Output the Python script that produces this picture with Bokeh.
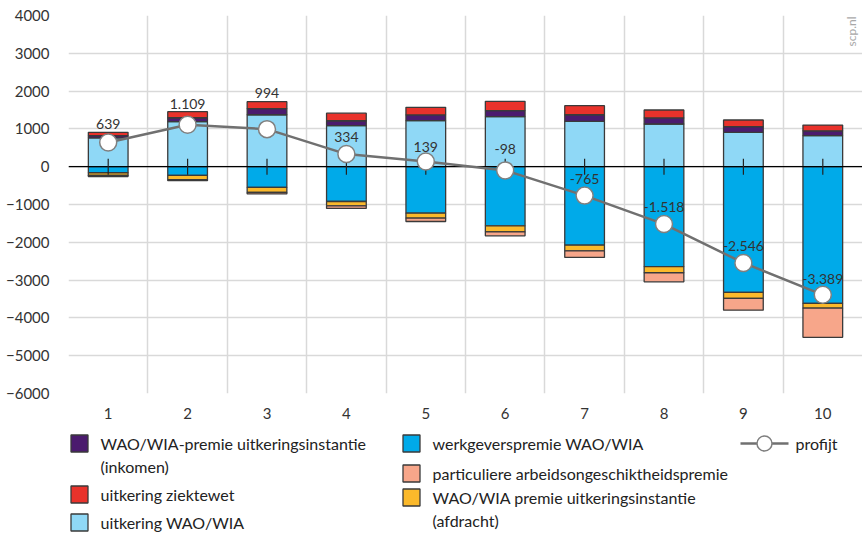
import numpy as np
from bokeh.plotting import figure
from bokeh.layouts import column
from bokeh.models import Range1d, FixedTicker, Label
from bokeh.core.properties import value
from bokeh.embed import file_html
from bokeh.resources import INLINE

FONT = "Lato"

cats = [1, 2, 3, 4, 5, 6, 7, 8, 9, 10]
tick_labels = {c: str(c) for c in cats}
# positive components
uitkering_wia = [760, 1190, 1375, 1085, 1220, 1325, 1200, 1130, 910, 820]
premie_inkomen = [60, 105, 160, 130, 150, 160, 175, 160, 150, 130]
uitkering_zw = [90, 160, 185, 200, 200, 245, 240, 210, 175, 150]
# negative components
werkgeverspremie = [-160, -230, -545, -920, -1230, -1565, -2075, -2645, -3325, -3615]
premie_afdracht = [-70, -110, -135, -115, -130, -160, -150, -160, -160, -125]
particuliere = [-30, -30, -40, -70, -90, -105, -175, -240, -310, -775]
profijt = [639, 1109, 994, 334, 139, -98, -765, -1518, -2546, -3389]
profijt_labels = ["639", "1.109", "994", "334", "139", "-98", "-765", "-1.518", "-2.546", "-3.389"]
# label offsets (style): pixels above each marker
label_offsets = [-19, -21, -36, -17, -14, -21, -17, -17, -17, -16]

C_PURPLE = "#4b1b6e"
C_RED = "#e9322b"
C_LBLUE = "#8fd8f6"
C_BLUE = "#00aae9"
C_SALMON = "#f7a68a"
C_ORANGE = "#fbb92b"
OUTLINE = "#3a3a3a"

p = figure(width=862, height=423, x_range=Range1d(0.5, 10.5), y_range=Range1d(-6000, 4000),
           output_backend="svg", toolbar_location=None,
           min_border_left=68, min_border_right=0, min_border_top=15, min_border_bottom=30)
p.outline_line_color = None
p.background_fill_color = "white"

p.xaxis.ticker = FixedTicker(ticks=cats)
p.xaxis.major_label_overrides = tick_labels
p.yaxis.ticker = FixedTicker(ticks=list(range(-6000, 4001, 1000)))
for ax in (p.xaxis[0], p.yaxis[0]):
    ax.axis_line_color = None
    ax.major_tick_line_color = None
    ax.minor_tick_line_color = None
    ax.major_label_text_font = FONT
    ax.major_label_text_font_size = "15px"
    ax.major_label_text_color = "#333333"
p.xaxis.major_label_standoff = 8
p.yaxis.major_label_standoff = 13

p.xgrid.ticker = FixedTicker(ticks=[c - 0.5 for c in cats] + [10.5])
p.ygrid.ticker = FixedTicker(ticks=list(range(-6000, 4001, 1000)))
p.xgrid.grid_line_color = "#d9d9d9"
p.ygrid.grid_line_color = "#d9d9d9"
p.xgrid.grid_line_width = 1.5
p.ygrid.grid_line_width = 1.5

w = 0.5
# positive stack
b0 = np.zeros(len(cats))
for vals, col in [(uitkering_wia, C_LBLUE), (premie_inkomen, C_PURPLE), (uitkering_zw, C_RED)]:
    v = np.array(vals, dtype=float)
    p.vbar(x=cats, width=w, bottom=b0, top=b0 + v, fill_color=col, line_color=OUTLINE, line_width=1.3)
    b0 = b0 + v
# negative stack
n0 = np.zeros(len(cats))
for vals, col in [(werkgeverspremie, C_BLUE), (premie_afdracht, C_ORANGE), (particuliere, C_SALMON)]:
    v = np.array(vals, dtype=float)
    p.vbar(x=cats, width=w, bottom=n0 + v, top=n0, fill_color=col, line_color=OUTLINE, line_width=1.3)
    n0 = n0 + v

# zero line and center ticks
p.segment(x0=[p.x_range.start], x1=[p.x_range.end], y0=[0], y1=[0], line_color="black", line_width=1.2)
p.segment(x0=cats, x1=cats, y0=[210] * len(cats), y1=[-210] * len(cats), line_color="#222222", line_width=1.2)

# profit line
p.line(cats, profijt, line_color="#707070", line_width=2.5)
p.scatter(cats, profijt, size=17, fill_color="white", line_color="#808080", line_width=1.5)
p.text(x=cats, y=profijt, text=profijt_labels, y_offset=label_offsets, text_align="center",
       text_baseline="middle", text_font=value(FONT), text_font_size="14px", text_color="#333333")

p.add_layout(Label(x=783, y=362, x_units="screen", y_units="screen", text="scp.nl", angle=np.pi / 2,
                   text_align="center", text_baseline="middle", text_font=FONT,
                   text_font_size="12px", text_color="#a8a8a8"))

# legend figure (coordinates in page pixels)
leg = figure(width=862, height=114, x_range=Range1d(68, 862), y_range=Range1d(537, 423),
             output_backend="svg", toolbar_location=None,
             min_border_left=68, min_border_right=0, min_border_top=0, min_border_bottom=0)
leg.axis.visible = False
leg.grid.visible = False
leg.outline_line_color = None

sq_x = [79, 79, 79, 411, 411, 411]
sq_y = [443, 494, 522, 443, 473, 497]
sq_c = [C_PURPLE, C_RED, C_LBLUE, C_BLUE, C_SALMON, C_ORANGE]
leg.scatter(sq_x, sq_y, marker="square", size=17, fill_color=sq_c, line_color=OUTLINE, line_width=1.3)

leg_text = ["WAO/WIA-premie uitkeringsinstantie", "(inkomen)", "uitkering ziektewet", "uitkering WAO/WIA",
            "werkgeverspremie WAO/WIA", "particuliere arbeidsongeschiktheidspremie",
            "WAO/WIA premie uitkeringsinstantie", "(afdracht)", "profijt"]
tx = [100, 100, 100, 100, 432, 432, 432, 432, 795]
ty = [443, 466, 494, 522, 443, 473, 497, 520, 443]
leg.text(tx, ty, text=leg_text, text_align="left", text_baseline="middle",
         text_font=value(FONT), text_font_size="16px", text_color="#222222")
leg.segment(x0=[740], x1=[788], y0=[443], y1=[443], line_color="#707070", line_width=2.5)
leg.scatter([764], [443], size=15, fill_color="white", line_color="#808080", line_width=1.5)

layout = column(p, leg, spacing=0)
open("out.html", "w").write(file_html(layout, INLINE))
